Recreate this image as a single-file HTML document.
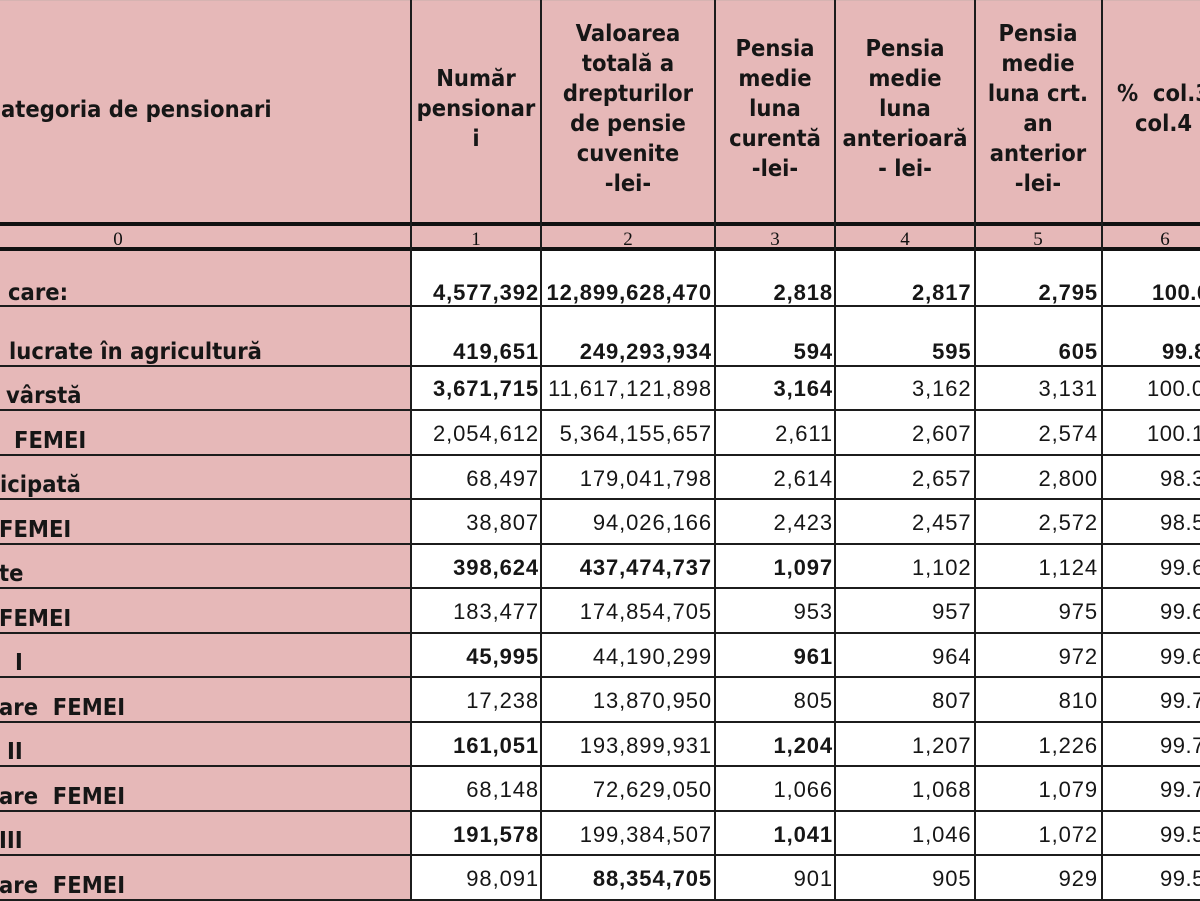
<!DOCTYPE html>
<html>
<head>
<meta charset="utf-8">
<style>
*{margin:0;padding:0;box-sizing:border-box}
body{width:1200px;height:900px;overflow:hidden;background:#e6b8b8;position:relative;color:#161616}
.w{position:absolute;left:412px;top:251px;width:788px;height:649px;background:#fff}
.h{position:absolute;left:0;width:1200px;height:2px;background:#1c1c1c}
.t{position:absolute;left:0;width:1200px;height:4px;background:#111}
.v{position:absolute;top:0;height:900px;width:2px;background:#1c1c1c}
.r{position:absolute;left:0;width:1200px;height:0}
.n{position:absolute;top:-18.6px;font-family:"Liberation Sans",Arial,sans-serif;font-size:22px;line-height:22px;letter-spacing:0.9px;text-align:right;white-space:nowrap}
.p{position:absolute;top:-18.6px;font-family:"Liberation Sans",Arial,sans-serif;font-size:22px;line-height:22px;letter-spacing:0.5px;white-space:nowrap}
.b{font-weight:bold}
.c1{left:412px;width:127px}
.c2{left:542px;width:170px}
.c3{left:716px;width:117px}
.c4{left:836px;width:135.5px}
.c5{left:976px;width:122px}
.l{position:absolute;top:-12.5px;font-family:"DejaVu Sans",sans-serif;font-weight:bold;font-size:23px;line-height:23px;white-space:pre;transform:scaleX(0.92);transform-origin:0 0}
.l0{top:-19.5px}
.hd{position:absolute;width:220px;font-family:"DejaVu Sans",sans-serif;font-weight:bold;font-size:23px;line-height:30px;text-align:center;transform:scaleX(0.92);white-space:nowrap}
.hl{position:absolute;font-family:"DejaVu Sans",sans-serif;font-weight:bold;font-size:23px;line-height:23px;white-space:pre;transform:scaleX(0.92);transform-origin:0 0}
.k{position:absolute;top:230px;font-family:"Liberation Serif",serif;font-size:19px;line-height:19px;width:60px;text-align:center;color:#111}
</style>
</head>
<body>
<div style="position:absolute;left:0;top:0;width:1200px;height:1px;background:#d6b3b1"></div>
<div class="w"></div>

<!-- header texts -->
<div class="hl" style="left:1px;top:98.5px">ategoria de pensionari</div>
<div class="hd" style="left:366px;top:64px">Număr<br>pensionar<br>i</div>
<div class="hd" style="left:518px;top:19px">Valoarea<br>totală a<br>drepturilor<br>de pensie<br>cuvenite<br>-lei-</div>
<div class="hd" style="left:665px;top:34px">Pensia<br>medie<br>luna<br>curentă<br>-lei-</div>
<div class="hd" style="left:795px;top:34px">Pensia<br>medie<br>luna<br>anterioară<br>- lei-</div>
<div class="hd" style="left:928px;top:19px">Pensia<br>medie<br>luna crt.<br>an<br>anterior<br>-lei-</div>
<div class="hl" style="left:1117px;top:82.5px">%  col.3</div>
<div class="hl" style="left:1135px;top:112.5px">col.4</div>

<!-- column index row -->
<div class="k" style="left:88px">0</div>
<div class="k" style="left:446px">1</div>
<div class="k" style="left:598px">2</div>
<div class="k" style="left:745px">3</div>
<div class="k" style="left:875px">4</div>
<div class="k" style="left:1008px">5</div>
<div class="k" style="left:1135px">6</div>

<!-- data rows -->
<div class="r" style="top:301px">
  <div class="l l0" style="left:8px">care:</div>
  <div class="n b c1">4,577,392</div><div class="n b c2">12,899,628,470</div><div class="n b c3">2,818</div><div class="n b c4">2,817</div><div class="n b c5">2,795</div><div class="p b" style="left:1152px">100.0</div>
</div>
<div class="r" style="top:360px">
  <div class="l l0" style="left:9px">lucrate în agricultură</div>
  <div class="n b c1">419,651</div><div class="n b c2">249,293,934</div><div class="n b c3">594</div><div class="n b c4">595</div><div class="n b c5">605</div><div class="p b" style="left:1162px">99.8</div>
</div>
<div class="r" style="top:397px">
  <div class="l" style="left:6px">vârstă</div>
  <div class="n b c1">3,671,715</div><div class="n c2">11,617,121,898</div><div class="n b c3">3,164</div><div class="n c4">3,162</div><div class="n c5">3,131</div><div class="p" style="left:1147px">100.0</div>
</div>
<div class="r" style="top:442px">
  <div class="l" style="left:14px">FEMEI</div>
  <div class="n c1">2,054,612</div><div class="n c2">5,364,155,657</div><div class="n c3">2,611</div><div class="n c4">2,607</div><div class="n c5">2,574</div><div class="p" style="left:1147px">100.1</div>
</div>
<div class="r" style="top:486.5px">
  <div class="l" style="left:0px">icipată</div>
  <div class="n c1">68,497</div><div class="n c2">179,041,798</div><div class="n c3">2,614</div><div class="n c4">2,657</div><div class="n c5">2,800</div><div class="p" style="left:1160px">98.3</div>
</div>
<div class="r" style="top:531px">
  <div class="l" style="left:-1px">FEMEI</div>
  <div class="n c1">38,807</div><div class="n c2">94,026,166</div><div class="n c3">2,423</div><div class="n c4">2,457</div><div class="n c5">2,572</div><div class="p" style="left:1160px">98.5</div>
</div>
<div class="r" style="top:575.5px">
  <div class="l" style="left:-1px">te</div>
  <div class="n b c1">398,624</div><div class="n b c2">437,474,737</div><div class="n b c3">1,097</div><div class="n c4">1,102</div><div class="n c5">1,124</div><div class="p" style="left:1160px">99.6</div>
</div>
<div class="r" style="top:620px">
  <div class="l" style="left:-1px">FEMEI</div>
  <div class="n c1">183,477</div><div class="n c2">174,854,705</div><div class="n c3">953</div><div class="n c4">957</div><div class="n c5">975</div><div class="p" style="left:1160px">99.6</div>
</div>
<div class="r" style="top:664.5px">
  <div class="l" style="left:15px">I</div>
  <div class="n b c1">45,995</div><div class="n c2">44,190,299</div><div class="n b c3">961</div><div class="n c4">964</div><div class="n c5">972</div><div class="p" style="left:1160px">99.6</div>
</div>
<div class="r" style="top:709px">
  <div class="l" style="left:-1px">are  FEMEI</div>
  <div class="n c1">17,238</div><div class="n c2">13,870,950</div><div class="n c3">805</div><div class="n c4">807</div><div class="n c5">810</div><div class="p" style="left:1160px">99.7</div>
</div>
<div class="r" style="top:753.5px">
  <div class="l" style="left:7px">II</div>
  <div class="n b c1">161,051</div><div class="n c2">193,899,931</div><div class="n b c3">1,204</div><div class="n c4">1,207</div><div class="n c5">1,226</div><div class="p" style="left:1160px">99.7</div>
</div>
<div class="r" style="top:798px">
  <div class="l" style="left:-1px">are  FEMEI</div>
  <div class="n c1">68,148</div><div class="n c2">72,629,050</div><div class="n c3">1,066</div><div class="n c4">1,068</div><div class="n c5">1,079</div><div class="p" style="left:1160px">99.7</div>
</div>
<div class="r" style="top:842.5px">
  <div class="l" style="left:-1px">III</div>
  <div class="n b c1">191,578</div><div class="n c2">199,384,507</div><div class="n b c3">1,041</div><div class="n c4">1,046</div><div class="n c5">1,072</div><div class="p" style="left:1160px">99.5</div>
</div>
<div class="r" style="top:887px">
  <div class="l" style="left:-1px">are  FEMEI</div>
  <div class="n c1">98,091</div><div class="n b c2">88,354,705</div><div class="n c3">901</div><div class="n c4">905</div><div class="n c5">929</div><div class="p" style="left:1160px">99.5</div>
</div>

<!-- grid lines -->
<div class="t" style="top:222px"></div>
<div class="t" style="top:247px"></div>
<div class="h" style="top:305px"></div>
<div class="h" style="top:365px"></div>
<div class="h" style="top:409px"></div>
<div class="h" style="top:454px"></div>
<div class="h" style="top:498px"></div>
<div class="h" style="top:543px"></div>
<div class="h" style="top:587px"></div>
<div class="h" style="top:632px"></div>
<div class="h" style="top:676px"></div>
<div class="h" style="top:721px"></div>
<div class="h" style="top:765px"></div>
<div class="h" style="top:810px"></div>
<div class="h" style="top:854px"></div>
<div class="h" style="top:899px"></div>

<div class="v" style="left:410px"></div>
<div class="v" style="left:540px"></div>
<div class="v" style="left:714px"></div>
<div class="v" style="left:834px"></div>
<div class="v" style="left:974px"></div>
<div class="v" style="left:1101px"></div>
</body>
</html>
